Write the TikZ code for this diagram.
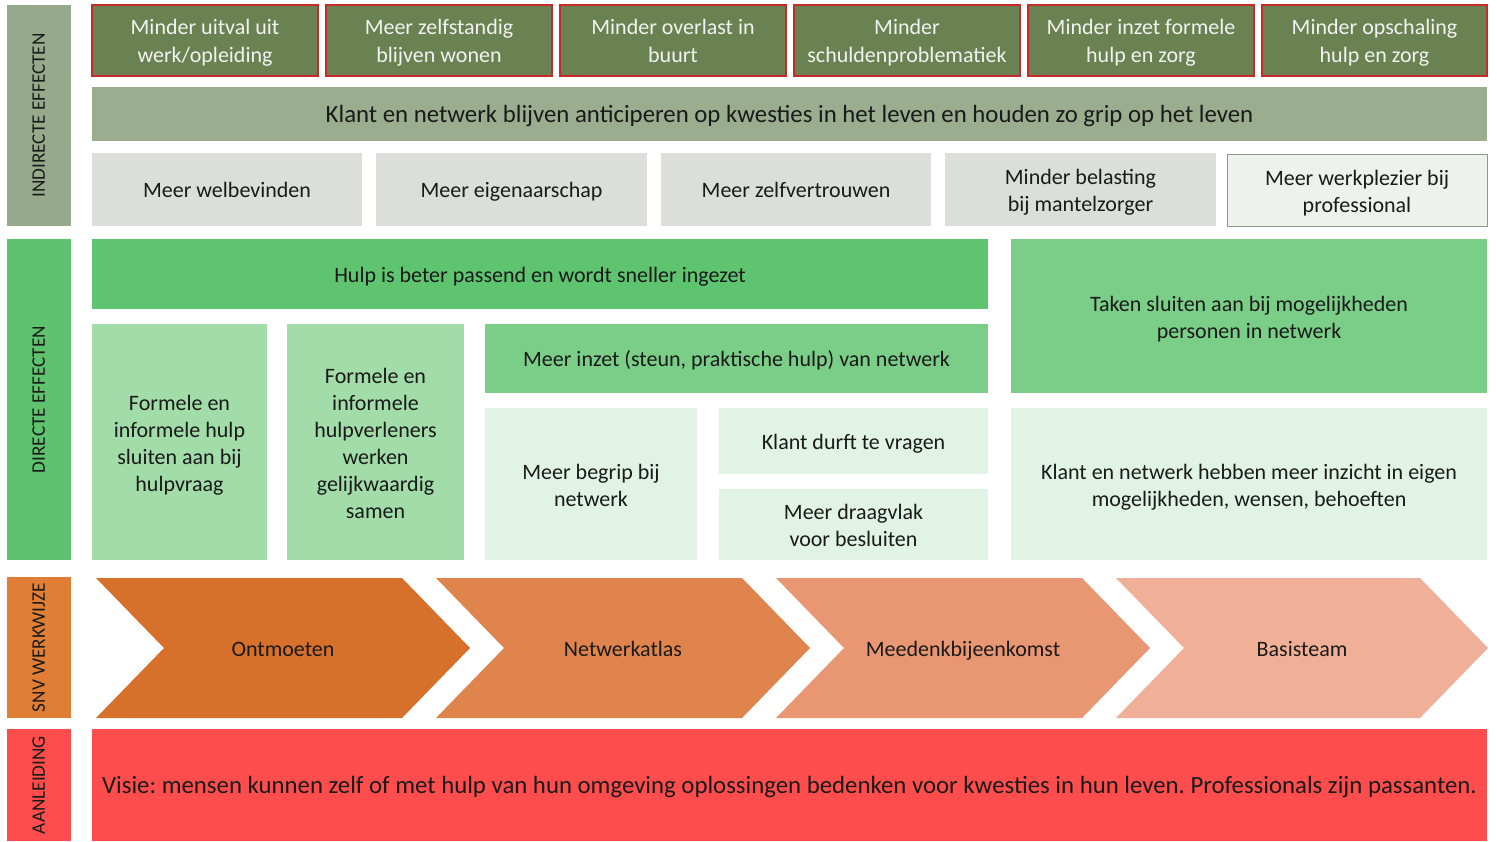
\documentclass[tikz,border=0pt]{standalone}
\usepackage{fontspec}
\setmainfont{Carlito}
\frenchspacing
\definecolor{indcol}{HTML}{96A98B}
\definecolor{topgreen}{HTML}{6A8251}
\definecolor{topred}{HTML}{C8292B}
\definecolor{klantbar}{HTML}{9AAD8F}
\definecolor{greyrow}{HTML}{DCDFD9}
\definecolor{greylight}{HTML}{EEF1EC}
\definecolor{greyedge}{HTML}{8C9A88}
\definecolor{dircol}{HTML}{5EC26E}
\definecolor{hulpbar}{HTML}{5FC46F}
\definecolor{midgreen}{HTML}{7ACE88}
\definecolor{palegreen}{HTML}{A1DCA9}
\definecolor{lightgreen}{HTML}{E1F3E4}
\definecolor{snvcol}{HTML}{E17E35}
\definecolor{chevA}{HTML}{D6702B}
\definecolor{chevB}{HTML}{E0844E}
\definecolor{chevC}{HTML}{E89772}
\definecolor{chevD}{HTML}{F0B098}
\definecolor{redcol}{HTML}{FF4C4C}
\definecolor{txt}{HTML}{1A1A1A}
\definecolor{lighttxt}{HTML}{F2F2F2}
\newcommand\mystrut{\rule[-0.2\baselineskip]{0pt}{\baselineskip}}
% \bx{name}{x1}{y1}{x2}{y2}{box style}{text style}{text}
\newcommand\bx[8]{\node[boxbase, #6, minimum width={(#4-#2)*0.5pt}, minimum height={(#5-#3)*0.5pt}] (#1) at ({(#2+#4)/2},{(#3+#5)/2}) {};
  \node[tx, #7] (#1t) at (#1.center) {#8};}
\tikzset{
  boxbase/.style={inner sep=0pt, outer sep=0pt},
  tx/.style={inner sep=0pt, outer sep=0pt, align=center, text=txt, font=\fontsize{11}{13.5}\selectfont,
    execute at begin node=\mystrut, execute at end node=\mystrut},
  multi/.style={yshift=-1.8pt},
  sidelabel/.style={inner sep=0pt, text=txt, font=\fontsize{9.6}{11}\selectfont, rotate=90, text height=1.5ex, text depth=0.25ex},
  topbox/.style={fill=topgreen, draw=topred, line width=1.1pt},
  toptext/.style={multi, text=lighttxt, font=\fontsize{11}{14}\selectfont},
  greyltbox/.style={fill=greylight, draw=greyedge, line width=0.5pt}
}
\begin{document}
\begin{tikzpicture}[x=0.5pt,y=-0.5pt]
\useasboundingbox[fill=white] (0,0) rectangle (1497,841);
% side labels
\bx{lind}{7}{5}{71}{226}{fill=indcol}{sidelabel}{INDIRECTE EFFECTEN}
\bx{ldir}{7}{239}{71}{560}{fill=dircol}{sidelabel}{DIRECTE EFFECTEN}
\bx{lsnv}{7}{577}{71}{718}{fill=snvcol}{sidelabel}{SNV WERKWIJZE}
\bx{laan}{7}{729}{71}{841}{fill=redcol}{sidelabel}{AANLEIDING}
% top row
\bx{t1}{92}{5}{318}{76}{topbox}{toptext}{Minder uitval uit\\werk/opleiding}
\bx{t2}{326}{5}{552}{76}{topbox}{toptext}{Meer zelfstandig\\blijven wonen}
\bx{t3}{560}{5}{786}{76}{topbox}{toptext}{Minder overlast in\\buurt}
\bx{t4}{794}{5}{1020}{76}{topbox}{toptext}{Minder\\schuldenproblematiek}
\bx{t5}{1028}{5}{1254}{76}{topbox}{toptext}{Minder inzet formele\\hulp en zorg}
\bx{t6}{1262}{5}{1487}{76}{topbox}{toptext}{Minder opschaling\\hulp en zorg}
% klant bar
\bx{kb}{92}{87}{1487}{141}{fill=klantbar}{font=\fontsize{12.4}{14.5}\selectfont}{Klant en netwerk blijven anticiperen op kwesties in het leven en houden zo grip op het leven}
% row 3
\bx{r1}{92}{153}{362}{226}{fill=greyrow}{}{Meer welbevinden}
\bx{r2}{376}{153}{647}{226}{fill=greyrow}{}{Meer eigenaarschap}
\bx{r3}{661}{153}{931}{226}{fill=greyrow}{}{Meer zelfvertrouwen}
\bx{r4}{945}{153}{1216}{226}{fill=greyrow}{multi}{Minder belasting\\bij mantelzorger}
\bx{r5}{1227}{154}{1487}{226}{greyltbox}{multi}{Meer werkplezier bij\\professional}
% directe effecten
\bx{d1}{92}{239}{988}{309}{fill=hulpbar}{}{Hulp is beter passend en wordt sneller ingezet}
\bx{d2}{1011}{239}{1487}{393}{fill=midgreen}{multi}{Taken sluiten aan bij mogelijkheden\\personen in netwerk}
\bx{d3}{92}{324}{267}{560}{fill=palegreen}{multi}{Formele en\\informele hulp\\sluiten aan bij\\hulpvraag}
\bx{d4}{287}{324}{464}{560}{fill=palegreen}{multi}{Formele en\\informele\\hulpverleners\\werken\\gelijkwaardig\\samen}
\bx{d5}{485}{324}{988}{393}{fill=midgreen}{}{Meer inzet (steun, praktische hulp) van netwerk}
\bx{d6}{485}{408}{697}{560}{fill=lightgreen}{multi}{Meer begrip bij\\netwerk}
\bx{d7}{719}{408}{988}{474}{fill=lightgreen}{}{Klant durft te vragen}
\bx{d8}{719}{489}{988}{560}{fill=lightgreen}{multi}{Meer draagvlak\\voor besluiten}
\bx{d9}{1011}{408}{1487}{560}{fill=lightgreen}{multi}{Klant en netwerk hebben meer inzicht in eigen\\mogelijkheden, wensen, behoeften}
% chevrons
\fill[chevA] (96,578) -- (402,578) -- (470,648) -- (402,718) -- (96,718) -- (164,648) -- cycle;
\node[tx] (c1) at (283,648) {Ontmoeten};
\fill[chevB] (436,578) -- (742,578) -- (810,648) -- (742,718) -- (436,718) -- (504,648) -- cycle;
\node[tx] (c2) at (623,648) {Netwerkatlas};
\fill[chevC] (776,578) -- (1082,578) -- (1150,648) -- (1082,718) -- (776,718) -- (844,648) -- cycle;
\node[tx] (c3) at (963,648) {Meedenkbijeenkomst};
\fill[chevD] (1116,578) -- (1420,578) -- (1488,648) -- (1420,718) -- (1116,718) -- (1184,648) -- cycle;
\node[tx] (c4) at (1302,648) {Basisteam};
% aanleiding
\bx{vis}{92}{729}{1487}{841}{fill=redcol}{font=\fontsize{12.4}{14.5}\selectfont}{Visie: mensen kunnen zelf of met hulp van hun omgeving oplossingen bedenken voor kwesties in hun leven. Professionals zijn passanten.}
\end{tikzpicture}
\end{document}
